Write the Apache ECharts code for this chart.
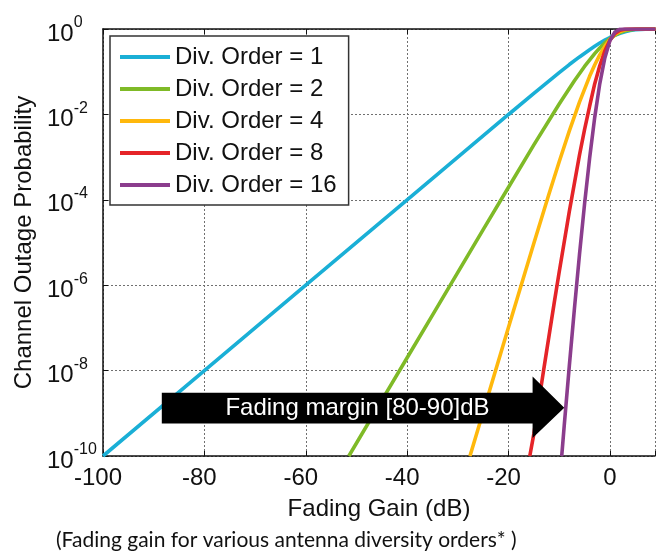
<!DOCTYPE html>
<html>
<head>
<meta charset="utf-8">
<title>Fading gain for various antenna diversity orders</title>
<script src="https://cdn.jsdelivr.net/npm/echarts@6/dist/echarts.min.js"></script>
<style>
  html, body { margin: 0; padding: 0; background: #ffffff; }
  #chart { width: 658px; height: 558px; }
</style>
</head>
<body>
<div id="chart"></div>
<script>
// Outage probability vs. fading gain, one curve per diversity order.
const seriesNames = ['Div. Order = 1', 'Div. Order = 2', 'Div. Order = 4', 'Div. Order = 8', 'Div. Order = 16'];

const gainDb1 = [-100, -80, -60, -40, -30, -20, -15, -10, -8, -6, -4, -3, -2, -1, 0, 1, 2, 3, 4, 5, 6, 7, 8, 9];
const outage1 = [1e-10, 1e-8, 1e-6, 1e-4, 1e-3, 9.95e-3, 0.031, 0.095, 0.147, 0.222, 0.328, 0.394, 0.468, 0.548, 0.632, 0.716, 0.795, 0.865, 0.919, 0.958, 0.981, 0.993, 0.998, 1.0];

const gainDb2 = [-51.5, -45, -40, -35, -30, -25, -20, -15, -10, -7, -5, -3, -2, -1, 0, 1, 2, 3, 5, 7, 9];
const outage2 = [1e-10, 2e-9, 2e-8, 2e-7, 2e-6, 2e-5, 1.97e-4, 1.93e-3, 0.0175, 0.0612, 0.133, 0.265, 0.36, 0.471, 0.594, 0.717, 0.825, 0.908, 0.987, 0.999, 1.0];

const gainDb4 = [-27.6, -25, -20, -15, -12, -10, -8, -6, -4, -3, -2, -1, 0, 1, 2, 3, 4, 6, 9];
const outage4 = [1e-10, 1.07e-9, 1.03e-7, 9.6e-6, 1.38e-4, 7.8e-4, 4.1e-3, 0.0194, 0.078, 0.144, 0.248, 0.392, 0.567, 0.747, 0.877, 0.957, 0.99, 1.0, 1.0];

const gainDb8 = [-15.8, -15, -13, -11, -10, -8, -6, -5, -4, -3, -2, -1, 0, 1, 2, 3, 5, 9];
const outage8 = [1e-10, 3.3e-10, 1.16e-8, 3.75e-7, 2.04e-6, 5.36e-5, 1.11e-3, 4.4e-3, 0.0155, 0.0517, 0.138, 0.306, 0.547, 0.786, 0.936, 0.99, 1.0, 1.0];

const gainDb16 = [-9.5, -9, -8, -7, -6, -5, -4, -3, -2, -1, 0, 1, 2, 3, 5, 9];
const outage16 = [1e-10, 5.3e-10, 1.3e-8, 2.8e-7, 5.2e-6, 7.9e-5, 9.4e-4, 8.4e-3, 0.052, 0.21, 0.533, 0.85, 0.99, 1.0, 1.0, 1.0];

const xTicks = [-100, -80, -60, -40, -20, 0];
const yTickExponents = [0, -2, -4, -6, -8, -10];

const colors = ['#1aafd6', '#7fba27', '#ffb80c', '#e52428', '#8b3d8d'];
const FONT = '"Liberation Sans", Arial, sans-serif';

// Arrow annotation, defined in axis units (dB, probability)
const arrowShape = {
  tailX: -88.4, headBaseX: -15.25, tipX: -9.0,
  bodyTop: Math.pow(10, -8.52), bodyBottom: Math.pow(10, -9.24),
  headTop: Math.pow(10, -8.14), headBottom: Math.pow(10, -9.58),
  tipY: Math.pow(10, -8.87)
};
const arrowText = 'Fading margin [80-90]dB';
const arrowTextAt = [-49.8, Math.pow(10, -8.88)];

function pairs(xs, ys) { return xs.map((x, i) => [x, ys[i]]); }

const curves = [
  pairs(gainDb1, outage1),
  pairs(gainDb2, outage2),
  pairs(gainDb4, outage4),
  pairs(gainDb8, outage8),
  pairs(gainDb16, outage16)
];

const chart = echarts.init(document.getElementById('chart'), null, { renderer: 'canvas' });

const gridLine = { show: true, lineStyle: { color: '#707070', type: [2, 2], width: 1 } };

chart.setOption({
  animation: false,
  backgroundColor: '#ffffff',
  grid: { left: 103, top: 29, right: 0, bottom: 102, containLabel: false },
  legend: {
    orient: 'vertical',
    left: 110, top: 36,
    data: seriesNames,
    icon: 'rect',
    itemWidth: 50, itemHeight: 4,
    itemGap: 8,
    padding: [9, 12, 8, 10],
    backgroundColor: '#ffffff',
    borderColor: '#333333', borderWidth: 1.5,
    textStyle: { fontFamily: FONT, fontSize: 24, color: '#111111', lineHeight: 24 }
  },
  xAxis: [{
    type: 'value', min: -100, max: 8.9, interval: 20,
    axisLine: { show: true, onZero: false, lineStyle: { color: '#111111', width: 1.5 } },
    axisTick: { show: true, inside: true, length: 5, lineStyle: { color: '#111111' } },
    axisLabel: {
      fontFamily: FONT, fontSize: 24, color: '#111111', margin: 10,
      formatter: v => xTicks.indexOf(v) < 0 ? '' : (v < 0 ? '{n|' + v + '}' : '' + v),
      rich: { n: { fontFamily: FONT, fontSize: 24, color: '#111111', padding: [0, 10, 0, 0] } }
    },
    splitLine: gridLine,
    name: 'Fading Gain (dB)', nameLocation: 'middle', nameGap: 41,
    nameTextStyle: { fontFamily: FONT, fontSize: 24, color: '#111111' }
  }, {
    type: 'value', position: 'top', min: -100, max: 8.9, interval: 20,
    axisLine: { show: true, onZero: false, lineStyle: { color: '#111111', width: 1.5 } },
    axisTick: { show: true, inside: true, length: 5, lineStyle: { color: '#111111' } },
    axisLabel: { show: false },
    splitLine: { show: false }
  }],
  yAxis: {
    type: 'log', logBase: 10, min: 1e-10, max: 1, interval: 2,
    axisLine: { show: true, onZero: false, lineStyle: { color: '#111111', width: 1.5 } },
    axisTick: { show: true, inside: true, length: 5, lineStyle: { color: '#111111' } },
    minorTick: { show: false },
    axisLabel: {
      align: 'left', margin: 56,
      formatter: v => {
        const e = Math.round(Math.log10(v));
        return yTickExponents.indexOf(e) < 0 ? '' : '{b|10}{s|' + e + '}';
      },
      rich: {
        b: { fontFamily: FONT, fontSize: 24, color: '#111111', padding: [10, 0, 0, 0] },
        s: { fontFamily: FONT, fontSize: 16, color: '#111111', padding: [0, 0, 12, 0] }
      }
    },
    splitLine: gridLine,
    name: 'Channel Outage Probability', nameLocation: 'middle', nameGap: 58,
    nameTextStyle: { fontFamily: FONT, fontSize: 24, color: '#111111' }
  },
  series: curves.map((d, i) => ({
    name: seriesNames[i],
    type: 'line',
    data: d,
    showSymbol: false,
    symbol: 'none',
    z: 3,
    color: colors[i],
    lineStyle: { color: colors[i], width: 3.6 },
    clip: true
  }))
});

// Arrow + caption, placed through the chart's own coordinate conversion
function px(x, y) { return chart.convertToPixel({ xAxisIndex: 0, yAxisIndex: 0 }, [x, y]); }
const a = arrowShape;
const arrowPts = [
  px(a.tailX, a.bodyTop), px(a.headBaseX, a.bodyTop), px(a.headBaseX, a.headTop),
  px(a.tipX, a.tipY),
  px(a.headBaseX, a.headBottom), px(a.headBaseX, a.bodyBottom), px(a.tailX, a.bodyBottom)
];
const textPos = px(arrowTextAt[0], arrowTextAt[1]);

chart.setOption({
  graphic: [
    { type: 'polygon', z: 20, shape: { points: arrowPts }, style: { fill: '#000000' } },
    { type: 'text', z: 21, x: textPos[0], y: textPos[1],
      style: { text: arrowText, fill: '#ffffff', font: '24px ' + FONT, align: 'center', verticalAlign: 'middle' } },
    { type: 'text', left: 56, top: 530,
      style: { text: '(Fading gain for various antenna diversity orders* )', fill: '#111111', font: '21px Lato, "Open Sans", sans-serif' } }
  ]
});
</script>
</body>
</html>
